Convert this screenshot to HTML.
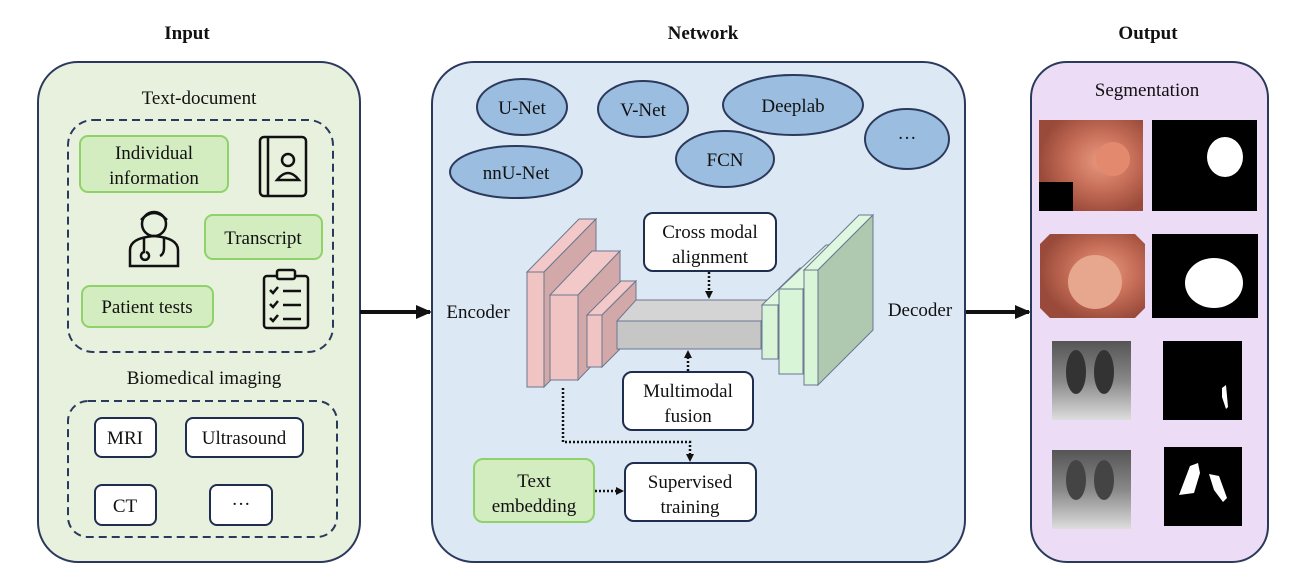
<!DOCTYPE html>
<html><head><meta charset="utf-8"><style>body{margin:0;background:#fff}svg{display:block}text{font-family:"Liberation Serif",serif;font-size:19px;fill:#111}</style></head><body>
<svg width="1295" height="587" viewBox="0 0 1295 587" xmlns="http://www.w3.org/2000/svg">
<defs>
<marker id="ah" markerWidth="8" markerHeight="8" refX="6" refY="4" orient="auto" markerUnits="userSpaceOnUse"><path d="M0,0 L8,4 L0,8 z" fill="#111"/></marker>
<marker id="bh" markerWidth="16" markerHeight="14" refX="14" refY="7" orient="auto" markerUnits="userSpaceOnUse"><path d="M0,0 L16,7 L0,14 z" fill="#111"/></marker>
<radialGradient id="endo" cx="0.6" cy="0.45" r="0.6"><stop offset="0" stop-color="#e99a80"/><stop offset="0.5" stop-color="#c8705a"/><stop offset="1" stop-color="#9a4a3a"/></radialGradient>
<linearGradient id="xr" x1="0" y1="0" x2="0" y2="1"><stop offset="0" stop-color="#555"/><stop offset="0.5" stop-color="#888"/><stop offset="1" stop-color="#ddd"/></linearGradient>
</defs>
<text x="187" y="39" text-anchor="middle" font-weight="bold">Input</text>
<text x="703" y="39" text-anchor="middle" font-weight="bold">Network</text>
<text x="1148" y="39" text-anchor="middle" font-weight="bold">Output</text>

<rect x="38" y="62" width="322" height="500" rx="40" fill="#e8f1de" stroke="#2b3a5c" stroke-width="2"/>
<text x="199" y="104" text-anchor="middle">Text-document</text>
<rect x="68" y="120" width="265" height="232" rx="25" fill="none" stroke="#2b3a5c" stroke-width="2" stroke-dasharray="8,5"/>
<rect x="80" y="136" width="148" height="56" rx="8" fill="#d3ecc0" stroke="#8fd26a" stroke-width="2"/>
<text x="154" y="159" text-anchor="middle">Individual</text><text x="154" y="184" text-anchor="middle">information</text>
<rect x="205" y="215" width="117" height="44" rx="8" fill="#d3ecc0" stroke="#8fd26a" stroke-width="2"/>
<text x="263" y="244" text-anchor="middle">Transcript</text>
<rect x="82" y="286" width="131" height="41" rx="8" fill="#d3ecc0" stroke="#8fd26a" stroke-width="2"/>
<text x="147" y="313" text-anchor="middle">Patient tests</text>
<g fill="none" stroke="#111" stroke-width="2.5">
<rect x="260" y="137" width="46" height="59" rx="4"/><line x1="268" y1="137" x2="268" y2="196"/>
<circle cx="288" cy="160" r="6"/><path d="M277,180 q11,-14 22,0 z"/>
<circle cx="154" cy="224" r="12"/><path d="M141,220 q13,-14 26,0"/>
<path d="M130,266 v-16 q0,-12 24,-14 q24,2 24,14 v16 z"/><path d="M144,238 v14 a4,4 0 1 0 2,0"/><path d="M164,238 v10 q0,6 -4,8"/>
<rect x="264" y="276" width="44" height="52" rx="3"/><rect x="277" y="270" width="18" height="9" rx="2" fill="#e8f1de"/>
<path d="M270,290 l3,3 l5,-6 M270,304 l3,3 l5,-6 M270,318 l3,3 l5,-6"/>
<line x1="283" y1="291" x2="301" y2="291"/><line x1="283" y1="305" x2="301" y2="305"/><line x1="283" y1="319" x2="301" y2="319"/>
</g>
<text x="204" y="384" text-anchor="middle">Biomedical imaging</text>
<rect x="68" y="401" width="269" height="136" rx="20" fill="none" stroke="#2b3a5c" stroke-width="2" stroke-dasharray="8,5"/>
<g fill="#fff" stroke="#1f2e4e" stroke-width="2">
<rect x="95" y="418" width="61" height="39" rx="7"/><rect x="186" y="418" width="117" height="39" rx="7"/>
<rect x="95" y="485" width="61" height="40" rx="7"/><rect x="210" y="485" width="62" height="40" rx="7"/></g>
<text x="125" y="444" text-anchor="middle">MRI</text><text x="244" y="444" text-anchor="middle">Ultrasound</text>
<text x="125" y="512" text-anchor="middle">CT</text><text x="241" y="510" text-anchor="middle">···</text>

<line x1="360" y1="312" x2="430" y2="312" stroke="#111" stroke-width="4" marker-end="url(#bh)"/>
<line x1="965" y1="312" x2="1029" y2="312" stroke="#111" stroke-width="4" marker-end="url(#bh)"/>

<rect x="432" y="62" width="533" height="500" rx="42" fill="#dde8f5" stroke="#2b3a5c" stroke-width="2"/>
<g fill="#9bbde0" stroke="#2b3a5c" stroke-width="2">
<ellipse cx="522" cy="107" rx="45" ry="28"/><ellipse cx="643" cy="109" rx="45" ry="28"/>
<ellipse cx="793" cy="105" rx="70" ry="30"/><ellipse cx="907" cy="139" rx="42" ry="30"/>
<ellipse cx="516" cy="172" rx="66" ry="26"/><ellipse cx="725" cy="159" rx="49" ry="28"/></g>
<text x="522" y="114" text-anchor="middle">U-Net</text><text x="643" y="116" text-anchor="middle">V-Net</text>
<text x="793" y="112" text-anchor="middle">Deeplab</text><text x="907" y="144" text-anchor="middle">···</text>
<text x="516" y="179" text-anchor="middle">nnU-Net</text><text x="725" y="166" text-anchor="middle">FCN</text>
<text x="478" y="318" text-anchor="middle">Encoder</text><text x="920" y="316" text-anchor="middle">Decoder</text>

<g stroke="#6a7890" stroke-width="1">
<path d="M527,272 L579,219 L596,219 L544,272 z" fill="#f3c8c8"/><path d="M544,272 L596,219 L596,334 L544,387 z" fill="#d3a8a8"/><rect x="527" y="272" width="17" height="115" fill="#f1c4c4"/>
<path d="M550,295 L592,251 L620,251 L578,295 z" fill="#f3c8c8"/><path d="M578,295 L620,251 L620,336 L578,380 z" fill="#d3a8a8"/><rect x="550" y="295" width="28" height="85" fill="#f1c4c4"/>
<path d="M587,315 L621,281 L636,281 L602,315 z" fill="#f3c8c8"/><path d="M602,315 L636,281 L636,333 L602,367 z" fill="#d3a8a8"/><rect x="587" y="315" width="15" height="52" fill="#f1c4c4"/>
<path d="M617,321 L636,300 L780,300 L761,321 z" fill="#d4d4d4"/><rect x="617" y="321" width="144" height="28" fill="#c6c6c6"/>
<path d="M762,305 L800,268 L816,268 L778,305 z" fill="#dff7df"/><rect x="762" y="305" width="16" height="54" fill="#d8f5d8"/>
<path d="M779,289 L826,245 L850,245 L803,289 z" fill="#dff7df"/><rect x="779" y="289" width="24" height="85" fill="#d8f5d8"/>
<path d="M804,270 L859,215 L873,215 L818,270 z" fill="#dff7df"/><path d="M818,270 L873,215 L873,330 L818,385 z" fill="#aec9b0"/><rect x="804" y="270" width="14" height="115" fill="#d8f5d8"/>
</g>
<g fill="#fff" stroke="#1f2e4e" stroke-width="2">
<rect x="644" y="213" width="132" height="58" rx="9"/><rect x="623" y="372" width="130" height="58" rx="9"/><rect x="625" y="463" width="131" height="58" rx="9"/></g>
<rect x="474" y="459" width="120" height="63" rx="9" fill="#d3ecc0" stroke="#8fd26a" stroke-width="2"/>
<text x="710" y="238" text-anchor="middle">Cross modal</text><text x="710" y="263" text-anchor="middle">alignment</text>
<text x="688" y="397" text-anchor="middle">Multimodal</text><text x="688" y="422" text-anchor="middle">fusion</text>
<text x="690" y="488" text-anchor="middle">Supervised</text><text x="690" y="513" text-anchor="middle">training</text>
<text x="534" y="487" text-anchor="middle">Text</text><text x="534" y="512" text-anchor="middle">embedding</text>
<g stroke="#111" stroke-width="2.5" stroke-dasharray="2,2" fill="none">
<line x1="709" y1="272" x2="709" y2="297" marker-end="url(#ah)"/>
<line x1="688" y1="371" x2="688" y2="352" marker-end="url(#ah)"/>
<path d="M563,388 V442 H690 V460" marker-end="url(#ah)"/>
<line x1="595" y1="491" x2="622" y2="491" marker-end="url(#ah)"/></g>

<rect x="1031" y="62" width="237" height="500" rx="36" fill="#ecdcf5" stroke="#2b3a5c" stroke-width="2"/>
<text x="1147" y="96" text-anchor="middle">Segmentation</text>
<rect x="1039" y="120" width="104" height="91" fill="url(#endo)"/><rect x="1039" y="182" width="34" height="29" fill="#000"/>
<circle cx="1113" cy="159" r="17" fill="#e38a6e"/>
<rect x="1152" y="120" width="105" height="91" fill="#000"/><ellipse cx="1225" cy="157" rx="18" ry="20" fill="#fff"/>
<path d="M1050,234 H1135 L1145,244 V308 L1135,318 H1050 L1040,308 V244 z" fill="url(#endo)"/>
<circle cx="1095" cy="282" r="27" fill="#e7a68e"/>
<rect x="1152" y="234" width="106" height="84" fill="#000"/><ellipse cx="1214" cy="283" rx="29" ry="25" fill="#fff"/>
<rect x="1052" y="341" width="79" height="79" fill="url(#xr)"/><ellipse cx="1076" cy="372" rx="10" ry="22" fill="#333"/><ellipse cx="1104" cy="372" rx="10" ry="22" fill="#333"/>
<rect x="1163" y="341" width="79" height="79" fill="#000"/><path d="M1222,388 L1226,385 L1228,407 L1226,409 L1222,397 z" fill="#fff"/>
<rect x="1052" y="450" width="79" height="79" fill="url(#xr)"/><ellipse cx="1076" cy="480" rx="10" ry="20" fill="#444"/><ellipse cx="1104" cy="480" rx="10" ry="20" fill="#444"/>
<rect x="1164" y="447" width="78" height="79" fill="#000"/><path d="M1190,466 L1198,463 L1200,473 L1194,493 L1179,495 z M1209,474 L1219,476 L1227,498 L1223,502 L1214,490 z" fill="#fff"/>
</svg>
</body></html>
